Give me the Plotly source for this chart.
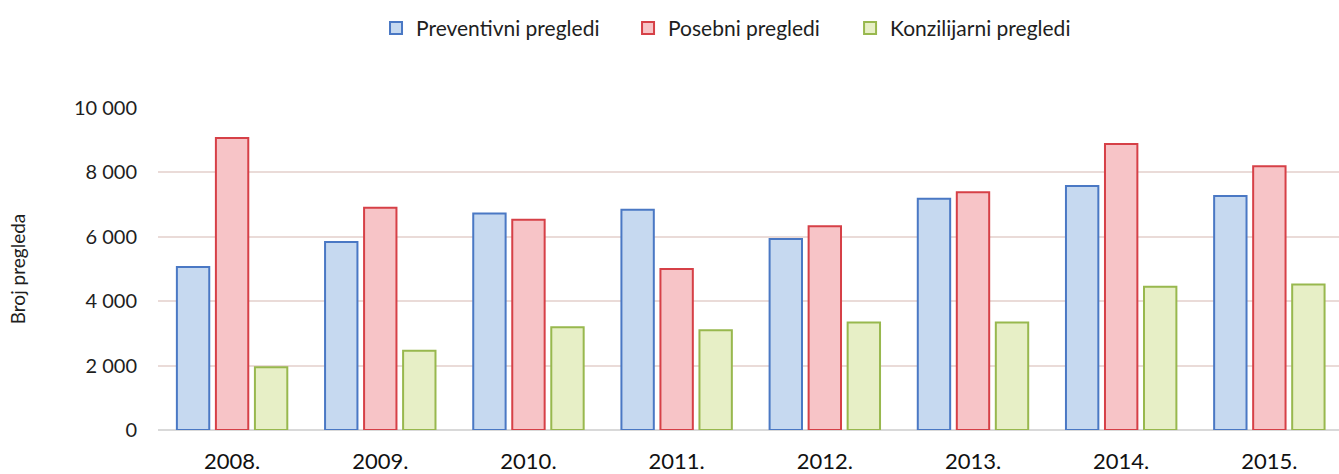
import plotly.graph_objects as go

years = ["2008.", "2009.", "2010.", "2011.", "2012.", "2013.", "2014.", "2015."]
preventivni = [5060, 5840, 6720, 6840, 5930, 7180, 7580, 7270]
posebni = [9070, 6900, 6530, 5000, 6330, 7380, 8880, 8190]
konzilijarni = [1950, 2460, 3190, 3100, 3340, 3340, 4450, 4520]

y_ticks = [0, 2000, 4000, 6000, 8000, 10000]
y_tick_labels = ["0", "2 000", "4 000", "6 000", "8 000", "10 000"]

series = [
    ("Preventivni pregledi", preventivni, "#c6d9f0", "#4a78c4", "legend", 0.1846),
    ("Posebni pregledi", posebni, "#f7c4c7", "#d64047", "legend2", 0.398),
    ("Konzilijarni pregledi", konzilijarni, "#e7efc6", "#98b84e", "legend3", 0.586),
]

font_family = "Lato, 'Open Sans', sans-serif"
text_color = "#1e1e1e"

fig = go.Figure()
legend_layouts = {}
for name, vals, fill, line, legend_id, lx in series:
    fig.add_trace(go.Bar(
        x=list(range(len(years))),
        y=vals,
        name=name,
        legend=legend_id,
        marker=dict(color=fill, line=dict(color=line, width=2)),
    ))
    legend_layouts[legend_id] = dict(
        orientation="h",
        x=lx,
        xanchor="left",
        y=1.247,
        yanchor="middle",
        font=dict(size=21, color=text_color),
        itemwidth=30,
        bgcolor="rgba(0,0,0,0)",
    )

fig.update_layout(
    width=1339,
    height=474,
    margin=dict(l=158, r=0, t=108, b=42),
    paper_bgcolor="white",
    plot_bgcolor="white",
    barmode="group",
    bargap=0.21,
    bargroupgap=0.17,
    font=dict(family=font_family, size=20, color=text_color),
    showlegend=True,
    xaxis=dict(
        range=[-0.5, 7.47],
        tickmode="array",
        tickvals=list(range(len(years))),
        ticktext=years,
        showgrid=False,
        zeroline=False,
        showline=False,
        ticks="",
        ticklabelstandoff=16,
        tickfont=dict(size=22, color="#111111"),
    ),
    yaxis=dict(
        range=[0, 10000],
        tickmode="array",
        tickvals=y_ticks,
        ticktext=y_tick_labels,
        showgrid=True,
        gridcolor="#eadbd8",
        gridwidth=1.5,
        zeroline=True,
        zerolinecolor="#d9d9d9",
        zerolinewidth=1.5,
        showline=False,
        ticks="",
        ticklabelstandoff=20,
        tickfont=dict(size=20, color=text_color),
        title=dict(text="Broj pregleda", font=dict(size=19, color=text_color), standoff=43),
    ),
)
fig.update_layout(**legend_layouts)

fig.write_html("out.html")
